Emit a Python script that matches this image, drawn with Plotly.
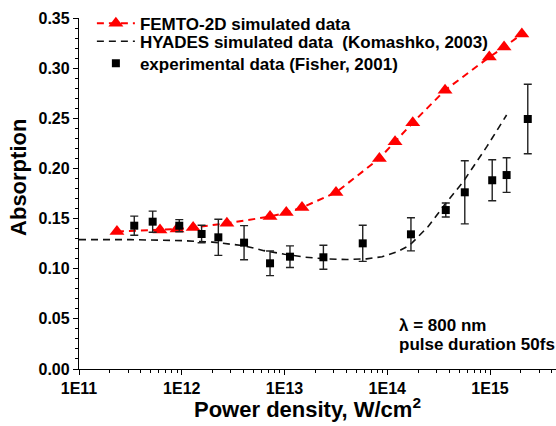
import plotly.graph_objects as go

# FEMTO-2D simulated data
femto_x = [2.34e11, 6.14e11, 8.99e11, 1.29e12, 2.75e12, 7.23e12, 1.04e13, 1.48e13,
           3.17e13, 8.38e13, 1.19e14, 1.77e14, 3.65e14, 9.84e14, 1.37e15, 2.04e15]
femto_y = [0.137, 0.1386, 0.1396, 0.141, 0.1453, 0.152, 0.156, 0.161,
           0.176, 0.210, 0.2266, 0.2456, 0.278, 0.311, 0.321, 0.334]

# HYADES simulated data (Komashko, 2003)
hyades_x = [1e11, 3.16e11, 1e12, 2e12, 4e12, 6.3e12, 1e13, 1.6e13, 2.5e13, 4e13,
            6.3e13, 8.9e13, 1.26e14, 1.66e14, 2.5e14, 3.6e14, 5.5e14, 9.3e14, 1.45e15]
hyades_y = [0.129, 0.129, 0.128, 0.1265, 0.123, 0.118, 0.1145, 0.1115, 0.1098, 0.1092,
            0.1098, 0.112, 0.117, 0.1236, 0.142, 0.1635, 0.187, 0.2217, 0.2533]

# experimental data (Fisher, 2001)
exp_x = [3.45e11, 5.21e11, 9.46e11, 1.56e12, 2.27e12, 4.04e12, 7.23e12, 1.13e13,
         2.39e13, 5.77e13, 1.70e14, 3.71e14, 5.68e14, 1.05e15, 1.45e15, 2.33e15]
exp_y = [0.1429, 0.1469, 0.1429, 0.1346, 0.1313, 0.126, 0.1054, 0.112,
         0.1114, 0.1253, 0.1343, 0.1585, 0.1762, 0.1882, 0.1934, 0.2493]
exp_err = [0.0095, 0.0105, 0.006, 0.0087, 0.018, 0.017, 0.0123, 0.0108,
           0.012, 0.018, 0.0165, 0.007, 0.0315, 0.0204, 0.0173, 0.0347]

x_tickvals = [1e11, 1e12, 1e13, 1e14, 1e15]
x_ticktext = ["1E11", "1E12", "1E13", "1E14", "1E15"]
x_minor = [m * 10 ** e for e in range(11, 16) for m in range(2, 10)]

FONT = "Liberation Sans, Arial, sans-serif"
LEGFONT = dict(family=FONT, size=17, color="#000", weight="bold")

fig = go.Figure()
fig.add_trace(go.Scatter(
    x=femto_x, y=femto_y, mode="lines+markers", name="FEMTO-2D simulated data",
    line=dict(color="#ff0000", width=2, dash="7px,5px"),
    marker=dict(symbol="triangle-up", size=13, color="#ff0000"),
    legend="legend",
))
fig.add_trace(go.Scatter(
    x=hyades_x, y=hyades_y, mode="lines", name="HYADES simulated data  (Komashko, 2003)",
    line=dict(color="#111111", width=1.6, dash="7px,5px"),
    legend="legend2",
))
fig.add_trace(go.Scatter(
    x=exp_x, y=exp_y, mode="markers", name="experimental data (Fisher, 2001)",
    marker=dict(symbol="square", size=8, color="#000000"),
    error_y=dict(type="data", array=exp_err, color="#222222", thickness=1.4, width=4),
    legend="legend3",
))

fig.add_annotation(x=0.667, y=0.125, xref="paper", yref="paper", xanchor="left", yanchor="middle",
                   text="<b>λ = 800 nm</b>", showarrow=False, font=dict(family=FONT, size=17, color="#000"))
fig.add_annotation(x=0.667, y=0.071, xref="paper", yref="paper", xanchor="left", yanchor="middle",
                   text="<b>pulse duration 50fs</b>", showarrow=False, font=dict(family=FONT, size=17, color="#000"))
# axis titles
fig.add_annotation(x=0.478, y=-0.111, xref="paper", yref="paper", xanchor="center", yanchor="middle",
                   text="<b>Power density, W/cm<sup>2</sup></b>", showarrow=False,
                   font=dict(family=FONT, size=22, color="#000"))
fig.add_annotation(x=-0.128, y=0.547, xref="paper", yref="paper", xanchor="center", yanchor="middle",
                   text="<b>Absorption</b>", showarrow=False, textangle=-90,
                   font=dict(family=FONT, size=22, color="#000"))

leg_common = dict(xanchor="left", yanchor="top", bgcolor="rgba(0,0,0,0)", font=LEGFONT,
                  itemwidth=38)
fig.update_layout(
    width=556, height=426,
    margin=dict(l=79, r=0, t=18, b=57),
    paper_bgcolor="white", plot_bgcolor="white",
    font=dict(family=FONT, color="#000"),
    legend=dict(x=0.027, y=1.035, **leg_common),
    legend2=dict(x=0.027, y=0.9838, **leg_common),
    legend3=dict(x=0.027, y=0.9211, **leg_common),
    xaxis=dict(
        type="log", range=[11, 15.642],
        tickmode="array", tickvals=x_tickvals, ticktext=x_ticktext,
        ticks="outside", ticklen=5, tickwidth=1.3, tickcolor="#000",
        minor=dict(tickmode="array", tickvals=x_minor, ticks="outside", ticklen=3, tickwidth=1, tickcolor="#000"),
        showline=True, linecolor="#000", linewidth=1.3, showgrid=False, zeroline=False,
        tickfont=dict(family=FONT, size=16, color="#000", weight="bold"),
    ),
    yaxis=dict(
        range=[0, 0.35], tickmode="linear", tick0=0, dtick=0.05, tickformat=".2f",
        ticks="outside", ticklen=5, tickwidth=1.3, tickcolor="#000",
        minor=dict(dtick=0.01, ticks="outside", ticklen=3, tickwidth=1, tickcolor="#000"),
        showline=True, linecolor="#000", linewidth=1.3, showgrid=False, zeroline=False,
        tickfont=dict(family=FONT, size=16, color="#000", weight="bold"),
    ),
    showlegend=True,
)

fig.write_html("out.html")
